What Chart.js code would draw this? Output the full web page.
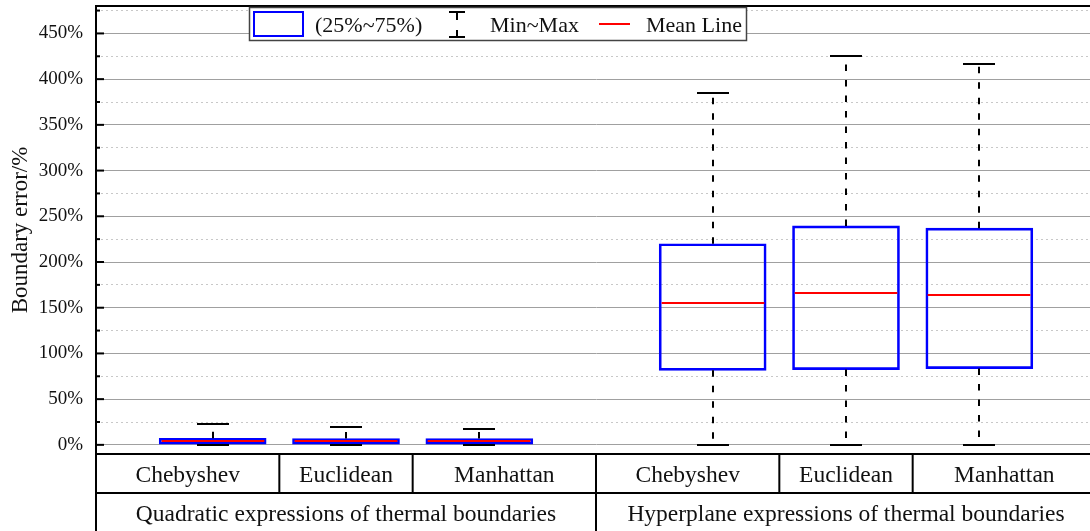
<!DOCTYPE html>
<html>
<head>
<meta charset="utf-8">
<title>Boundary error</title>
<script src="https://cdn.jsdelivr.net/npm/chart.js@4/dist/chart.umd.min.js"></script>
<style>
  html, body { margin: 0; padding: 0; background: #fff; overflow: hidden; }
  canvas { display: block; }
</style>
</head>
<body>
<canvas id="boxChart" width="1098" height="531"></canvas>
<script>
"use strict";

// data ---------------
const groups = ["Quadratic expressions of thermal boundaries", "Hyperplane expressions of thermal boundaries"];
const methods = ["Chebyshev", "Euclidean", "Manhattan"];
const minVals = [0, 0, 0, 0, 0, 0];
const q1Vals = [0.8, 0.8, 0.8, 81.5, 82.3, 83.4];
const meanVals = [4, 4, 4, 155.5, 166, 164.3];
const q3Vals = [7.2, 7, 7, 220, 239.5, 237];
const maxVals = [22.5, 19, 17.5, 384.5, 425.5, 416.8];
const legendLabels = ["(25%~75%)", "Min~Max", "Mean Line"];
const yTitle = "Boundary error/%";

// layout ---------------
const GROUP_SPAN = 3.75;
const FIRST = 0.875;
const BOX_W = 0.8;
const serif = '"Liberation Serif", "Times New Roman", serif';

const positions = [];
groups.forEach((g, gi) => methods.forEach((m, mi) => positions.push(gi * GROUP_SPAN + FIRST + mi)));

function line(ctx, x1, y1, x2, y2) {
  ctx.beginPath();
  ctx.moveTo(x1, y1);
  ctx.lineTo(x2, y2);
  ctx.stroke();
}

// whiskers + mean lines
const boxParts = {
  id: "boxParts",
  afterDatasetsDraw(chart) {
    const { ctx } = chart;
    const x = chart.scales.x;
    const y = chart.scales.y;
    ctx.save();
    positions.forEach((p, i) => {
      const cx = Math.round(x.getPixelForValue(p));
      const half = (x.getPixelForValue(p + BOX_W / 2) - x.getPixelForValue(p - BOX_W / 2)) / 2;
      ctx.strokeStyle = "#000";
      ctx.lineWidth = 2;
      ctx.setLineDash([6.5, 9]);
      line(ctx, cx, y.getPixelForValue(q3Vals[i]), cx, y.getPixelForValue(maxVals[i]));
      line(ctx, cx, y.getPixelForValue(q1Vals[i]), cx, y.getPixelForValue(minVals[i]));
      ctx.setLineDash([]);
      [minVals[i], maxVals[i]].forEach(v => {
        const py = Math.round(y.getPixelForValue(v));
        line(ctx, cx - 16, py, cx + 16, py);
      });
      ctx.strokeStyle = "#ff0000";
      const my = Math.round(y.getPixelForValue(meanVals[i]));
      line(ctx, cx - half + 2, my, cx + half - 2, my);
    });
    ctx.restore();
  }
};

// frame, inner ticks, category table, legend
const frame = {
  id: "frame",
  afterDraw(chart) {
    const { ctx, chartArea } = chart;
    const { left, right, top, bottom } = chartArea;
    const x = chart.scales.x;
    const y = chart.scales.y;
    const H = chart.height;
    const rowH = 39;
    ctx.save();
    ctx.strokeStyle = "#000";
    ctx.lineWidth = 2;
    line(ctx, left, top, right, top);
    line(ctx, left, top, left, H);
    y.ticks.forEach(t => line(ctx, left, y.getPixelForValue(t.value), left + 8, y.getPixelForValue(t.value)));
    chart.scales.y2.ticks.forEach(t => {
      if (t.value % 50 !== 0) line(ctx, left, y.getPixelForValue(t.value), left + 4, y.getPixelForValue(t.value));
    });

    // table under the plot
    line(ctx, left, bottom, right, bottom);
    line(ctx, left, bottom + rowH, right, bottom + rowH);
    ctx.fillStyle = "#111";
    ctx.textAlign = "center";
    ctx.textBaseline = "alphabetic";
    ctx.font = "23.5px " + serif;
    groups.forEach((g, gi) => {
      const start = gi * GROUP_SPAN;
      const edges = [start];
      for (let mi = 0; mi < methods.length - 1; mi++) edges.push(start + FIRST + mi + 0.5);
      edges.push(start + GROUP_SPAN);
      const px = edges.map(v => x.getPixelForValue(v));
      if (gi > 0) line(ctx, px[0], bottom, px[0], H);
      for (let k = 1; k < px.length - 1; k++) line(ctx, px[k], bottom, px[k], bottom + rowH);
      methods.forEach((m, mi) => ctx.fillText(m, (px[mi] + px[mi + 1]) / 2, bottom + 28));
      ctx.fillText(g, (px[0] + px[px.length - 1]) / 2, bottom + 67);
    });

    // legend
    const lx = left + 153, ly = top + 1;
    ctx.fillStyle = "#fff";
    ctx.fillRect(lx, ly, 498, 34);
    ctx.strokeStyle = "#444";
    ctx.lineWidth = 1.5;
    ctx.strokeRect(lx + 0.5, ly + 0.5, 497, 33);
    ctx.strokeStyle = "#0000ff";
    ctx.lineWidth = 2;
    ctx.strokeRect(lx + 5, ly + 5, 49, 24);
    ctx.strokeStyle = "#000";
    const wx = lx + 208;
    line(ctx, wx - 8, ly + 5, wx + 8, ly + 5);
    line(ctx, wx - 8, ly + 30, wx + 8, ly + 30);
    ctx.setLineDash([8, 10]);
    line(ctx, wx, ly + 5, wx, ly + 31);
    ctx.setLineDash([]);
    ctx.strokeStyle = "#ff0000";
    line(ctx, lx + 350, ly + 17, lx + 381, ly + 17);
    ctx.fillStyle = "#111";
    ctx.textAlign = "left";
    ctx.font = "22px " + serif;
    ctx.fillText(legendLabels[0], lx + 66, ly + 25);
    ctx.fillText(legendLabels[1], lx + 241, ly + 25);
    ctx.fillText(legendLabels[2], lx + 397, ly + 25);
    ctx.restore();
  }
};

const ctx = document.getElementById("boxChart").getContext("2d");
const boxChart = new Chart(ctx, {
  type: "bar",
  data: {
    datasets: [
      {
        label: legendLabels[0],
        data: positions.map((p, i) => ({ x: p, y: [q1Vals[i], q3Vals[i]] })),
        backgroundColor: "rgba(0,0,0,0)",
        borderColor: "#0000ff",
        borderWidth: 2,
        borderSkipped: false,
        barThickness: 107,
      },
    ],
  },
  options: {
    responsive: false,
    animation: false,
    layout: { padding: { top: 6, right: 2, bottom: 77, left: 0 } },
    plugins: { legend: { display: false }, tooltip: { enabled: false } },
    scales: {
      x: {
        type: "linear",
        min: 0,
        max: GROUP_SPAN * groups.length,
        offset: false,
        display: false,
      },
      y: {
        position: "left",
        min: -10,
        max: 480,
        ticks: {
          stepSize: 50,
          includeBounds: false,
          padding: 13,
          color: "#111",
          font: { family: serif, size: 19 },
          callback: function (value) {
            return value + "%";
          },
        },
        grid: { color: "#a0a0a0", lineWidth: 1, drawTicks: false },
        border: { display: true, color: "#000", width: 2 },
        title: {
          display: true,
          text: yTitle,
          color: "#111",
          font: { family: serif, size: 23 },
          padding: { top: 7, bottom: 0 },
        },
        afterFit: function (scale) {
          scale.width = 96;
          scale.paddingTop = 0;
          scale.paddingBottom = 0;
        },
      },
      y2: {
        position: "left",
        min: -10,
        max: 480,
        ticks: { display: false, stepSize: 25, includeBounds: false },
        grid: {
          drawTicks: false,
          color: function (c) {
            return c.tick && c.tick.value % 50 === 0 ? "rgba(0,0,0,0)" : "#c8c8c8";
          },
        },
        border: { display: false, dash: [2, 3] },
        afterFit: function (scale) {
          scale.width = 0;
          scale.paddingTop = 0;
          scale.paddingBottom = 0;
        },
      },
    },
  },
  plugins: [boxParts, frame],
});
</script>
</body>
</html>
